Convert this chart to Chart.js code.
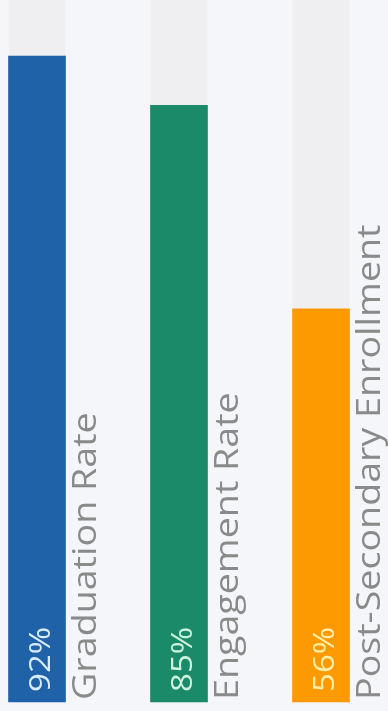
<!DOCTYPE html>
<html>
<head>
<meta charset="utf-8">
<script src="https://cdn.jsdelivr.net/npm/chart.js@4/dist/chart.umd.min.js"></script>
<style>
  body { margin: 0; background: #f5f6fa; }
  #grafica { display: block; }
</style>
</head>
<body>
<canvas id="grafica" width="388" height="711"></canvas>
<script>
const categorias = ['Graduation Rate', 'Engagement Rate', 'Post-Secondary Enrollment']
const valores = [92, 85, 56]
const etiquetas = ['92%', '85%', '56%']
const pista = [100, 100, 100]

const coloresBarra = ['#1f62a7', '#1b8a68', '#fd9a02']
const coloresTexto = ['#dcecff', '#cdf3df', '#fff0a6']
const estirar = 1.14

// textos verticales: porcentaje dentro de la barra y nombre a la derecha
const textos = {
    id: 'textos',
    afterDatasetsDraw(chart) {
        const ctx = chart.ctx
        const meta = chart.getDatasetMeta(0)
        meta.data.forEach((bar, i) => {
            const abajo = bar.base

            ctx.save()
            ctx.translate(bar.x + 5, abajo - 10)
            ctx.rotate(-Math.PI / 2)
            ctx.scale(estirar, 1)
            ctx.font = '29px "Open Sans"'
            ctx.fillStyle = coloresTexto[i]
            ctx.textAlign = 'left'
            ctx.textBaseline = 'middle'
            ctx.fillText(etiquetas[i], 0, 0)
            ctx.restore()

            ctx.save()
            ctx.translate(bar.x + 59, abajo - 2)
            ctx.rotate(-Math.PI / 2)
            ctx.scale(estirar, 1)
            ctx.font = '33px "Open Sans"'
            ctx.fillStyle = '#8a8a8a'
            ctx.textAlign = 'left'
            ctx.textBaseline = 'alphabetic'
            ctx.fillText(categorias[i], 0, 0)
            ctx.restore()
        })
    }
}

const ctx = document.getElementById('grafica')
new Chart(ctx, {
    type: 'bar',
    data: {
        labels: categorias,
        datasets: [{
            data: valores,
            backgroundColor: coloresBarra,
            barThickness: 57,
            grouped: false,
            clip: false,
            order: 1
        }, {
            data: pista,
            backgroundColor: '#efeff1',
            barThickness: 56,
            grouped: false,
            clip: false,
            order: 2
        }]
    },
    options: {
        responsive: false,
        animation: false,
        layout: {
            padding: { left: 37, right: 67, top: 0, bottom: 9 }
        },
        plugins: {
            legend: { display: false },
            tooltip: { enabled: false }
        },
        scales: {
            x: { display: false, offset: false },
            y: { display: false, min: 0, max: 100 }
        }
    },
    plugins: [textos]
})
</script>
</body>
</html>
